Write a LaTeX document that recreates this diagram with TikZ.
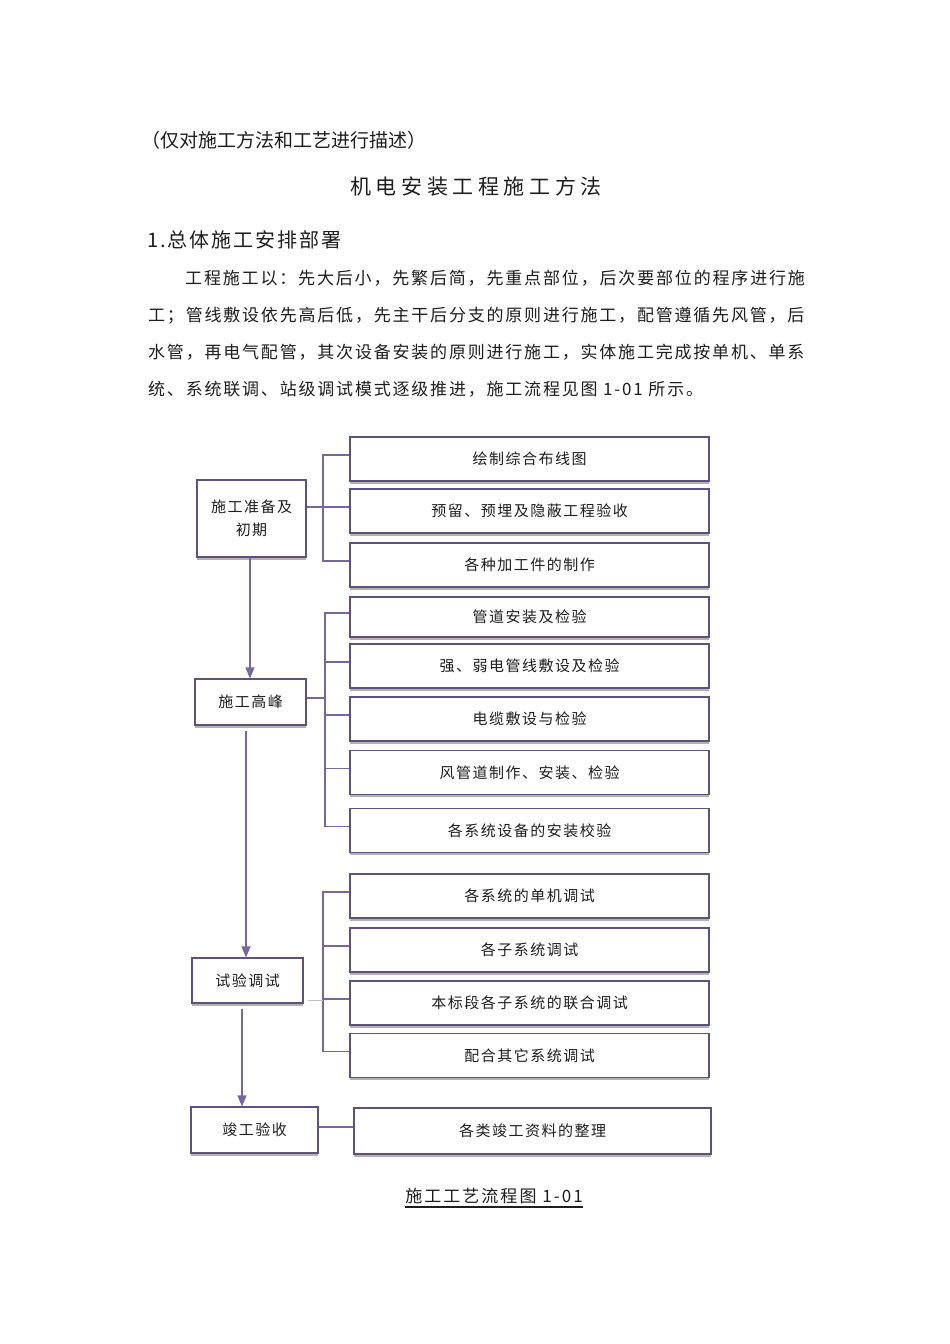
\documentclass[tikz,border=0pt]{standalone}
\usepackage{fontspec}
\setmainfont{Noto Sans CJK SC}
\usetikzlibrary{arrows.meta,shadows}

\definecolor{boxline}{RGB}{96,80,124}
\definecolor{linkline}{RGB}{122,102,158}
\definecolor{ink}{RGB}{30,30,30}

\tikzset{
  stage/.style={draw=boxline, line width=1.1pt, fill=white, align=center, text=ink,
    font=\fontsize{15}{23}\selectfont\addfontfeatures{LetterSpace=10},
    drop shadow={shadow xshift=0pt, shadow yshift=-2.5pt, fill=black!30, opacity=1}},
  task/.style={stage, minimum width=359pt, minimum height=44pt},
  link/.style={draw=linkline, line width=1.3pt},
  stub/.style={draw=black!25, line width=1.3pt},
  flow/.style={link, -{Triangle[length=11pt,width=9pt]}},
  line/.style={anchor=west, inner sep=0pt, text=ink}
}

\begin{document}
\begin{tikzpicture}[x=1pt,y=-1pt]
\fill[white] (0,0) rectangle (950,1344);
\useasboundingbox (0,0) rectangle (950,1344);

% heading and text
\node[line, font=\fontsize{19}{22}\selectfont] (note) at (141,140) {（仅对施工方法和工艺进行描述）};
\node[inner sep=0pt, text=ink, font=\fontsize{21}{24}\selectfont\addfontfeatures{LetterSpace=22}] (title) at (476,187) {机电安装工程施工方法};
\node[line, font=\fontsize{20}{24}\selectfont\addfontfeatures{LetterSpace=10}] (sec) at (147,240) {1.总体施工安排部署};
\node[line, font=\fontsize{17}{20}\selectfont\addfontfeatures{LetterSpace=10.8}] (p1) at (185,278) {工程施工以：先大后小，先繁后简，先重点部位，后次要部位的程序进行施};
\node[line, font=\fontsize{17}{20}\selectfont\addfontfeatures{LetterSpace=10.6}] (p2) at (148,316) {工；管线敷设依先高后低，先主干后分支的原则进行施工，配管遵循先风管，后};
\node[line, font=\fontsize{17}{20}\selectfont\addfontfeatures{LetterSpace=10.6}] (p3) at (148,352) {水管，再电气配管，其次设备安装的原则进行施工，实体施工完成按单机、单系};
\node[line, font=\fontsize{17}{20}\selectfont\addfontfeatures{LetterSpace=10.6}] (p4) at (148,389) {统、系统联调、站级调试模式逐级推进，施工流程见图 1-01 所示。};

% stages
\node[stage, minimum width=109pt, minimum height=77pt] (l1) at (251.5,518.5) {施工准备及\\初期};
\node[stage, minimum width=111pt, minimum height=46pt] (l2) at (250.5,702) {施工高峰};
\node[stage, minimum width=111pt, minimum height=45pt] (l3) at (247.5,980.5) {试验调试};
\node[stage, minimum width=127pt, minimum height=46pt] (l4) at (254.5,1130) {竣工验收};

% tasks
\node[task] (r1) at (529.5,459) {绘制综合布线图};
\node[task] (r2) at (529.5,511) {预留、预埋及隐蔽工程验收};
\node[task] (r3) at (529.5,565) {各种加工件的制作};
\node[task, minimum height=40pt] (r4) at (529.5,617) {管道安装及检验};
\node[task] (r5) at (529.5,666) {强、弱电管线敷设及检验};
\node[task] (r6) at (529.5,719) {电缆敷设与检验};
\node[task] (r7) at (529.5,772.5) {风管道制作、安装、检验};
\node[task] (r8) at (529.5,830.5) {各系统设备的安装校验};
\node[task] (r9) at (529.5,896) {各系统的单机调试};
\node[task] (r10) at (529.5,950) {各子系统调试};
\node[task] (r11) at (529.5,1003) {本标段各子系统的联合调试};
\node[task] (r12) at (529.5,1055.5) {配合其它系统调试};
\node[task, minimum width=357pt, minimum height=46pt] (r13) at (532.5,1131) {各类竣工资料的整理};

\foreach \i in {1,...,13}
  \coordinate (r\i w) at ([yshift=4pt]r\i.west);
\coordinate (t1) at (323,0);
\coordinate (t2) at (325,0);
\coordinate (t3) at (323,0);

% brackets
\draw[link] (r1w) -| (t1 |- r3w) -- (r3w);
\draw[link] (l1.east |- r2w) -- (r2w);

\draw[link] (r4w) -| (t2 |- r8w) -- (r8w);
\foreach \i in {5,6,7}
  \draw[link] (t2 |- r\i w) -- (r\i w);
\coordinate (l2w) at ([yshift=4pt]l2.east);
\draw[link] (l2w) -- (t2 |- l2w);

\draw[link] (r9w) -| (t3 |- r12w) -- (r12w);
\foreach \i in {10,11}
  \draw[link] (t3 |- r\i w) -- (r\i w);
\coordinate (l3w) at ([xshift=4pt,yshift=-20pt]l3.east);
\draw[stub] (l3w) -- (t3 |- l3w);

\draw[link] (l4.east |- r13w) -- (r13w);

% flow
\coordinate (a1) at ([xshift=-1.5pt]l1.south);
\draw[flow] (a1) -- (a1 |- l2.north);
\coordinate (a2) at ([xshift=-4.5pt,yshift=-5pt]l2.south);
\draw[flow] (a2) -- (a2 |- l3.north);
\coordinate (a3) at ([xshift=-5.5pt,yshift=-5pt]l3.south);
\draw[flow] (a3) -- (a3 |- l4.north);

% caption
\node[inner sep=0pt, text=ink, font=\fontsize{17}{20}\selectfont\addfontfeatures{LetterSpace=12}] (cap) at (494,1196) {施工工艺流程图 1-01};
\draw[line width=1.3pt, ink] ([yshift=-3pt]cap.south west) -- ([yshift=-3pt]cap.south east);
\end{tikzpicture}
\end{document}
